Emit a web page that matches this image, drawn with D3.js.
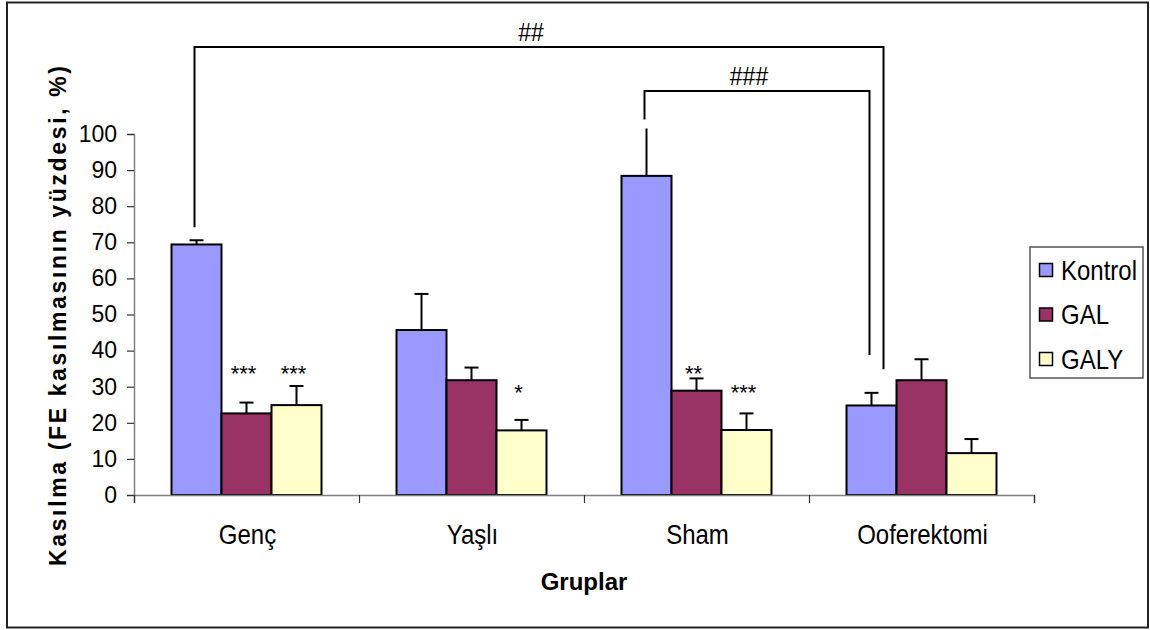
<!DOCTYPE html>
<html>
<head>
<meta charset="utf-8">
<script src="https://cdn.jsdelivr.net/npm/d3@7/dist/d3.min.js"></script>
<style>
  html, body { margin: 0; padding: 0; background: #fff; }
  svg { display: block; font-family: "Liberation Sans", Arial, sans-serif; }
</style>
</head>
<body>
<svg id="chart" width="1150" height="630"></svg>
<script>
// Group names on the x axis
const categories = ["Genç", "Yaşlı", "Sham", "Ooferektomi"];
// Series shown in the legend
const seriesNames = ["Kontrol", "GAL", "GALY"];
const seriesColors = ["#9999FF", "#993366", "#FFFFCC"];

// Mean contraction (% of FE contraction) per group
const kontrol = [69.4, 45.7, 88.4, 24.8];
const gal = [22.6, 31.8, 28.9, 31.8];
const galy = [24.9, 17.9, 18.0, 11.6];

// Standard error (upper bars only)
const kontrolErr = [1.2, 10.0, 15.0, 3.5];
const galErr = [3.0, 3.5, 3.4, 5.8];
const galyErr = [5.3, 2.9, 4.6, 3.9];

// Y axis ticks
const yTicks = [0, 10, 20, 30, 40, 50, 60, 70, 80, 90, 100];

// Significance marks above bars (vs. Kontrol of the same group)
const starGroups = ["Genç", "Genç", "Yaşlı", "Sham", "Sham"];
const starSeries = ["GAL", "GALY", "GALY", "GAL", "GALY"];
const starText = ["***", "***", "*", "**", "***"];
const starLevel = [35.5, 35.5, 30.2, 35.5, 30.2];

// Between-group comparisons (Kontrol bars): bracket height and leg ends
const bracketLabel = ["##", "###"];
const bracketFrom = ["Genç", "Sham"];
const bracketTo = ["Ooferektomi", "Ooferektomi"];
const bracketLevel = [124.1, 111.9];
const bracketFromEnd = [74.2, 104.0];
const bracketToEnd = [34.8, 38.8];

const values = [kontrol, gal, galy];
const errors = [kontrolErr, galErr, galyErr];

// Text in this chart is drawn slightly taller than wide
const TALL = 1.15;

const svg = d3.select("#chart");

// Outer frame
svg.append("rect")
  .attr("x", 7).attr("y", 2.5)
  .attr("width", 1141).attr("height", 625)
  .attr("fill", "#fff").attr("stroke", "#222").attr("stroke-width", 2);

const plot = { left: 134, right: 1034, top: 134, bottom: 495 };

const y = d3.scaleLinear().domain([0, 100]).range([plot.bottom, plot.top]);
const x0 = d3.scaleBand().domain(categories).range([plot.left, plot.right]).paddingInner(0).paddingOuter(0);
const x1 = d3.scaleBand().domain(seriesNames)
  .range([x0.bandwidth() / 6, x0.bandwidth() * 5 / 6]).padding(0);
const edge = d3.scaleLinear().domain([0, categories.length]).range([plot.left, plot.right]);

const barCenter = (cat, ser) => x0(cat) + x1(ser) + x1.bandwidth() / 2;

// Clip marks at the top of the plot area
svg.append("defs").append("clipPath").attr("id", "plotClip")
  .append("rect")
  .attr("x", plot.left).attr("y", y(101.5))
  .attr("width", plot.right - plot.left).attr("height", plot.bottom - y(101.5) + 2);

// Rows of data: one per bar
const rows = [];
categories.forEach((c, i) => {
  seriesNames.forEach((s, j) => {
    rows.push({ cat: c, ser: s, value: values[j][i], err: errors[j][i], color: seriesColors[j] });
  });
});

const marks = svg.append("g").attr("clip-path", "url(#plotClip)");

// Error bars (drawn first so bars sit on top of the stems)
const eb = marks.append("g").attr("stroke", "#000").attr("stroke-width", 2);
eb.selectAll("line.stem").data(rows).join("line")
  .attr("class", "stem")
  .attr("x1", d => barCenter(d.cat, d.ser)).attr("x2", d => barCenter(d.cat, d.ser))
  .attr("y1", d => y(d.value)).attr("y2", d => y(d.value + d.err));
eb.selectAll("line.cap").data(rows).join("line")
  .attr("class", "cap")
  .attr("x1", d => barCenter(d.cat, d.ser) - 7).attr("x2", d => barCenter(d.cat, d.ser) + 7)
  .attr("y1", d => y(d.value + d.err)).attr("y2", d => y(d.value + d.err));

// Bars
marks.append("g").selectAll("rect").data(rows).join("rect")
  .attr("x", d => x0(d.cat) + x1(d.ser))
  .attr("y", d => y(d.value))
  .attr("width", x1.bandwidth())
  .attr("height", d => y(0) - y(d.value))
  .attr("fill", d => d.color)
  .attr("stroke", "#000").attr("stroke-width", 2);

// Y axis
const yAxis = svg.append("g")
  .attr("transform", `translate(${plot.left},0)`)
  .call(d3.axisLeft(y).tickValues(yTicks).tickSize(7).tickPadding(10).tickFormat(d3.format("d")));
yAxis.select(".domain").attr("stroke", "#808080").attr("stroke-width", 1.5);
yAxis.selectAll(".tick line").attr("stroke", "#333").attr("stroke-width", 1.2);
yAxis.selectAll(".tick text")
  .attr("font-size", 23).attr("fill", "#000")
  .attr("font-family", "Liberation Sans, Arial, sans-serif");

// X axis: baseline with ticks at the group boundaries
const xAxis = svg.append("g")
  .attr("transform", `translate(0,${plot.bottom})`)
  .call(d3.axisBottom(edge).tickValues(d3.range(categories.length + 1)).tickSize(8).tickFormat(""));
xAxis.select(".domain").attr("stroke", "#808080").attr("stroke-width", 1.5);
xAxis.selectAll(".tick line").attr("stroke", "#333").attr("stroke-width", 1.2);

// Group labels
svg.append("g").selectAll("text").data(categories).join("text")
  .attr("transform", d => `translate(${x0(d) + x0.bandwidth() / 2 + 1},544) scale(1,${TALL})`)
  .attr("text-anchor", "middle")
  .attr("font-size", 24)
  .attr("fill", "#000")
  .text(d => d);

// Axis titles
svg.append("text")
  .attr("x", (plot.left + plot.right) / 2).attr("y", 590)
  .attr("text-anchor", "middle")
  .attr("font-size", 24).attr("font-weight", "bold")
  .text("Gruplar");

svg.append("text")
  .attr("transform", `translate(66,316) rotate(-90)`)
  .attr("text-anchor", "middle")
  .attr("font-size", 23).attr("font-weight", "bold")
  .attr("textLength", 500).attr("lengthAdjust", "spacing")
  .text("Kasılma (FE kasılmasının yüzdesi, %)");

// Significance stars
svg.append("g").selectAll("text").data(starText).join("text")
  .attr("x", (d, i) => barCenter(starGroups[i], starSeries[i]) - 3)
  .attr("y", (d, i) => y(starLevel[i]) + 14)
  .attr("text-anchor", "middle")
  .attr("font-size", 22)
  .attr("fill", "#000")
  .text(d => d);

// Comparison brackets
const br = svg.append("g").attr("fill", "none").attr("stroke", "#000").attr("stroke-width", 2);
const bracketRightShift = [12, -2];
bracketLabel.forEach((lab, i) => {
  const xa = barCenter(bracketFrom[i], "Kontrol") - 2;
  const xb = barCenter(bracketTo[i], "Kontrol") + bracketRightShift[i];
  const yl = y(bracketLevel[i]);
  br.append("path")
    .attr("d", `M${xa},${y(bracketFromEnd[i])}V${yl}H${xb}V${y(bracketToEnd[i])}`);
  svg.append("text")
    .attr("transform", `translate(${(xa + xb) / 2 - 8},${yl - 6}) scale(1,${TALL})`)
    .attr("text-anchor", "middle")
    .attr("font-size", 23)
    .attr("fill", "#000")
    .text(lab);
});

// Legend
const legend = svg.append("g").attr("transform", "translate(1030,247)");
legend.append("rect")
  .attr("width", 113).attr("height", 131)
  .attr("fill", "#fff").attr("stroke", "#555").attr("stroke-width", 1.5);
const li = legend.selectAll("g.item").data(seriesNames).join("g")
  .attr("class", "item")
  .attr("transform", (d, i) => `translate(0,${23 + i * 44.5})`);
li.append("rect")
  .attr("x", 9.5).attr("y", -6.5).attr("width", 13).attr("height", 13)
  .attr("fill", (d, i) => seriesColors[i])
  .attr("stroke", "#000").attr("stroke-width", 1.5);
li.append("text")
  .attr("transform", `translate(31,9.5) scale(1,${TALL})`)
  .attr("font-size", 24).attr("fill", "#000")
  .text(d => d);
</script>
</body>
</html>
